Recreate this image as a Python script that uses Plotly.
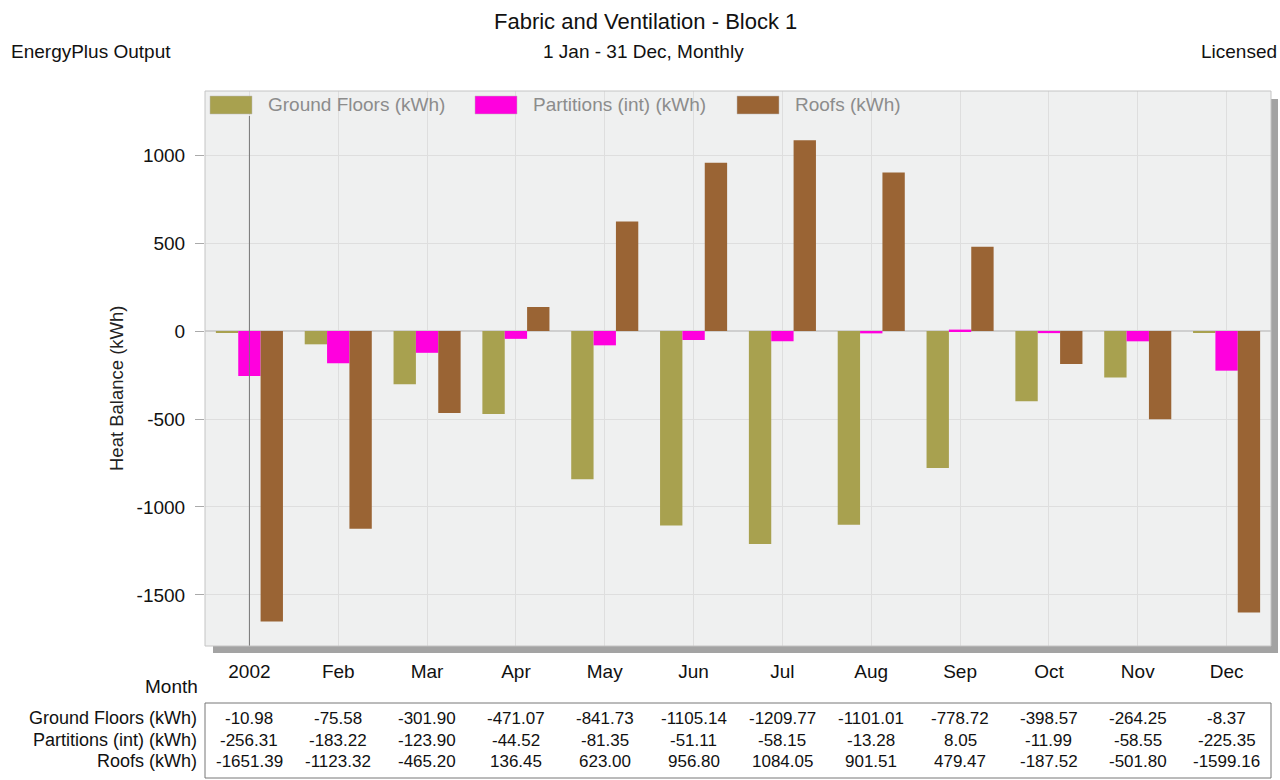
import plotly.graph_objects as go

months = ["2002", "Feb", "Mar", "Apr", "May", "Jun", "Jul", "Aug", "Sep", "Oct", "Nov", "Dec"]
ground_floors = [-10.98, -75.58, -301.90, -471.07, -841.73, -1105.14, -1209.77, -1101.01, -778.72, -398.57, -264.25, -8.37]
partitions = [-256.31, -183.22, -123.90, -44.52, -81.35, -51.11, -58.15, -13.28, 8.05, -11.99, -58.55, -225.35]
roofs = [-1651.39, -1123.32, -465.20, 136.45, 623.00, 956.80, 1084.05, 901.51, 479.47, -187.52, -501.80, -1599.16]

series = [
    ("Ground Floors (kWh)", ground_floors, "#a8a14f"),
    ("Partitions (int) (kWh)", partitions, "#ff00de"),
    ("Roofs (kWh)", roofs, "#9a6434"),
]

FONT = "Liberation Sans, Arial, sans-serif"
W, H = 1280, 780
L, R, T, B = 205, 9, 91, 134
PH = H - T - B
PW = W - L - R


def py(ypix):
    return (H - B - ypix) / PH


def px(xpix):
    return (xpix - L) / PW


fig = go.Figure()
for name, vals, col in series:
    fig.add_trace(go.Bar(x=months, y=vals, name=name, marker=dict(color=col, line=dict(width=0)),
                         showlegend=False))

shapes = []
# shadow right and bottom
shapes.append(dict(type="rect", xref="paper", yref="paper", x0=1.0, x1=px(W - 2), y0=py(H - B + 7), y1=py(T + 8),
                   fillcolor="#a3a3a3", line=dict(width=0), layer="below"))
shapes.append(dict(type="rect", xref="paper", yref="paper", x0=px(L + 8), x1=px(W - 2), y0=py(H - B + 7), y1=0,
                   fillcolor="#a3a3a3", line=dict(width=0), layer="below"))
# band at top with no gridlines
shapes.append(dict(type="rect", xref="paper", yref="paper", x0=0, x1=1, y0=py(116), y1=1,
                   fillcolor="#eff0f0", line=dict(width=0), layer="below"))
# year separator line
shapes.append(dict(type="line", xref="x", yref="paper", x0=0, x1=0, y0=0, y1=py(116),
                   line=dict(color="#777777", width=1)))
# frame
shapes.append(dict(type="rect", xref="paper", yref="paper", x0=0, x1=1, y0=0, y1=1,
                   line=dict(color="#c4c4c4", width=1)))
# table box
shapes.append(dict(type="rect", xref="paper", yref="paper", x0=0, x1=1, y0=py(778), y1=py(703),
                   line=dict(color="#777777", width=1)))

annotations = [
    dict(text="Fabric and Ventilation - Block 1", xref="paper", yref="paper", x=px(645), y=py(22),
         showarrow=False, font=dict(size=22, color="#111"), xanchor="center", yanchor="middle"),
    dict(text="1 Jan - 31 Dec, Monthly", xref="paper", yref="paper", x=px(643), y=py(51),
         showarrow=False, font=dict(size=19, color="#111"), xanchor="center", yanchor="middle"),
    dict(text="EnergyPlus Output", xref="paper", yref="paper", x=px(9), y=py(51),
         showarrow=False, font=dict(size=19, color="#111"), xanchor="left", yanchor="middle"),
    dict(text="Licensed", xref="paper", yref="paper", x=px(1279), y=py(51),
         showarrow=False, font=dict(size=19, color="#111"), xanchor="right", yanchor="middle"),
    dict(text="Heat Balance (kWh)", xref="paper", yref="paper", x=px(116), y=py(388), textangle=-90,
         showarrow=False, font=dict(size=18.5, color="#222"), xanchor="center", yanchor="middle"),
    dict(text="Month", xref="paper", yref="paper", x=px(200), y=py(686),
         showarrow=False, font=dict(size=19, color="#111"), xanchor="right", yanchor="middle"),
]

# manual legend
legend_x = [210, 475, 737]
for (name, vals, col), lx in zip(series, legend_x):
    shapes.append(dict(type="rect", xref="paper", yref="paper", x0=px(lx), x1=px(lx + 42),
                       y0=py(114), y1=py(96), fillcolor=col, line=dict(color="#bbbbbb", width=0.5)))
    annotations.append(dict(text=name, xref="paper", yref="paper", x=px(lx + 56), y=py(105),
                            showarrow=False, font=dict(size=19, color="#8c8c8c"),
                            xanchor="left", yanchor="middle"))

row_y = [718, 740, 761]
for (name, vals, col), ry in zip(series, row_y):
    annotations.append(dict(text=name, xref="paper", yref="paper", x=px(199), y=py(ry),
                            showarrow=False, font=dict(size=18, color="#111"), xanchor="right", yanchor="middle"))
    for i, v in enumerate(vals):
        annotations.append(dict(text=f"{v:.2f}", xref="x", yref="paper", x=i, y=py(ry),
                                showarrow=False, font=dict(size=17, color="#111"), xanchor="center", yanchor="middle"))

fig.update_layout(
    width=W, height=H,
    margin=dict(l=L, r=R, t=T, b=B),
    paper_bgcolor="white",
    plot_bgcolor="#eff0f0",
    font=dict(family=FONT, color="#111"),
    barmode="group",
    bargap=0.245,
    bargroupgap=0,
    showlegend=False,
    shapes=shapes,
    annotations=annotations,
    xaxis=dict(type="category", showgrid=True, gridcolor="#dedede", gridwidth=1,
               tickfont=dict(size=19, color="#111"),
               ticks="", ticklabelstandoff=12, showline=False, zeroline=False, fixedrange=True),
    yaxis=dict(range=[-1790, 1364], tickvals=[-1500, -1000, -500, 0, 500, 1000],
               ticktext=["-1500", "-1000", "-500", "0", "500", "1000"],
               showgrid=True, gridcolor="#dedede", gridwidth=1, zeroline=True, zerolinecolor="#cfcfcf",
               ticks="outside", ticklen=9, tickcolor="#aaaaaa", tickfont=dict(size=19, color="#111"),
               ticklabelstandoff=6, showline=False),
)

fig.write_html("out.html", config={"displayModeBar": False},
               post_script="document.body.style.margin='0';document.body.style.padding='0';")
